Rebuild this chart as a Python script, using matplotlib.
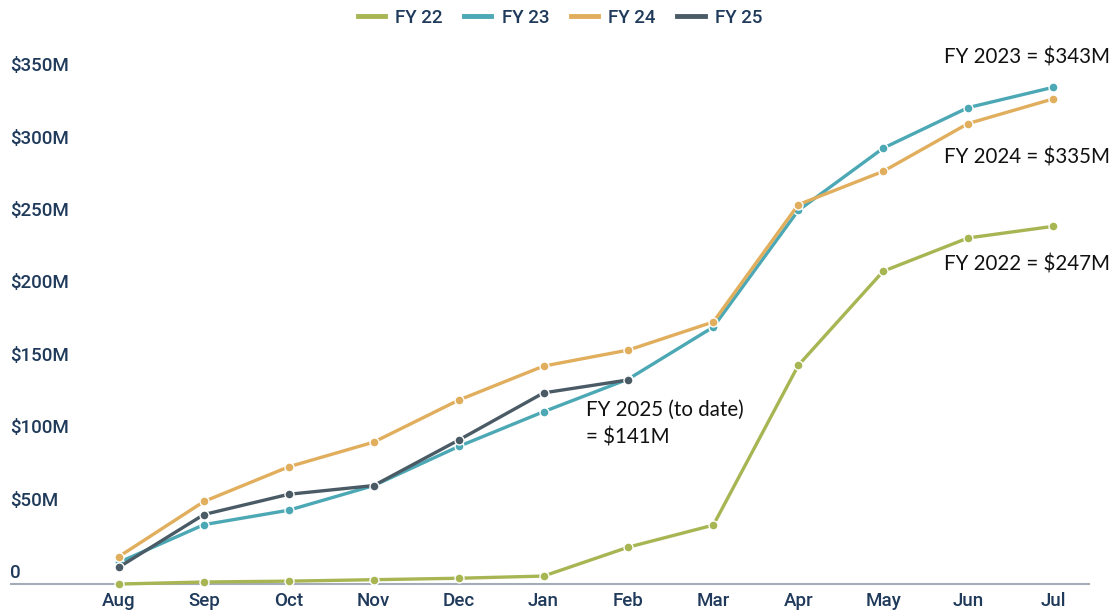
import matplotlib
matplotlib.use("Agg")
import matplotlib.pyplot as plt

months = ["Aug", "Sep", "Oct", "Nov", "Dec", "Jan", "Feb", "Mar", "Apr", "May", "Jun", "Jul"]

fy22 = [0, 1.4, 2, 3, 4, 5.5, 25.5, 40.7, 151, 216, 239, 247]
fy23 = [15, 41, 51, 68, 95, 119, 141.6, 177.5, 258, 301, 329, 343]
fy24 = [19, 57, 81, 98, 127, 150.5, 161.6, 181, 262, 285, 318, 335]
fy25 = [11.7, 48, 62, 68, 99.4, 132, 141]

y_ticks = [0, 50, 100, 150, 200, 250, 300, 350]
y_labels = ["0", "$50M", "$100M", "$150M", "$200M", "$250M", "$300M", "$350M"]

series = [("FY 22", fy22, "#a8b553"),
          ("FY 23", fy23, "#4ba8b4"),
          ("FY 24", fy24, "#e0ae5c"),
          ("FY 25", fy25, "#4a5b66")]

tick_color = "#1f3a5a"
note_font = ["Lato", "DejaVu Sans"]

fig = plt.figure(figsize=(11.12, 6.13), dpi=100)
ax = fig.add_axes([10 / 1112, 0, 1080 / 1112, 573 / 613])
x_left, x_right = -1.284, 11.436
ax.set_xlim(x_left, x_right)
ax.set_ylim(-20, 375.7)
ax.axis("off")

ax.axhline(0, color="#a3adb8", lw=1.5, zorder=1)

for name, vals, col in series:
    xs = list(range(len(vals)))
    ax.plot(xs, vals, color=col, lw=2.4, marker="o", ms=6.5,
            mfc=col, mec="white", mew=1.0, label=name, zorder=3,
            clip_on=False)

# y labels
for v, lab in zip(y_ticks, y_labels):
    ax.text(x_left + 0.005, v + 7.6, lab, ha="left", va="center",
            fontsize=13.5, color=tick_color, family="Roboto", fontweight="medium")

# x labels
for i, m in enumerate(months):
    ax.text(i, -11.7, m, ha="center", va="center",
            fontsize=13.5, color=tick_color, family="Roboto", fontweight="medium")

# annotations
note_kw = dict(ha="left", va="center", fontsize=14.8, color="#111111", family=note_font)
ax.text(9.717, 363.3, "FY 2023 = $343M", **note_kw)
ax.text(9.717, 294.9, "FY 2024 = $335M", **note_kw)
ax.text(9.717, 221.0, "FY 2022 = $247M", **note_kw)
ax.text(5.50, 120.2, "FY 2025 (to date)", **note_kw)
ax.text(5.50, 101.5, "= $141M", **note_kw)

leg_handles = [plt.Line2D([0], [0], color=c, lw=3.5) for _, _, c in series]
leg = fig.legend(leg_handles, [s[0] for s in series], loc="center",
                 bbox_to_anchor=(560 / 1112, 1 - 18 / 613), ncol=4, frameon=False,
                 handlelength=1.45, columnspacing=1.15, handletextpad=0.55,
                 prop={"family": "Roboto", "weight": "medium", "size": 13.5})
for t in leg.get_texts():
    t.set_color(tick_color)

fig.savefig("out.png", dpi=100)
